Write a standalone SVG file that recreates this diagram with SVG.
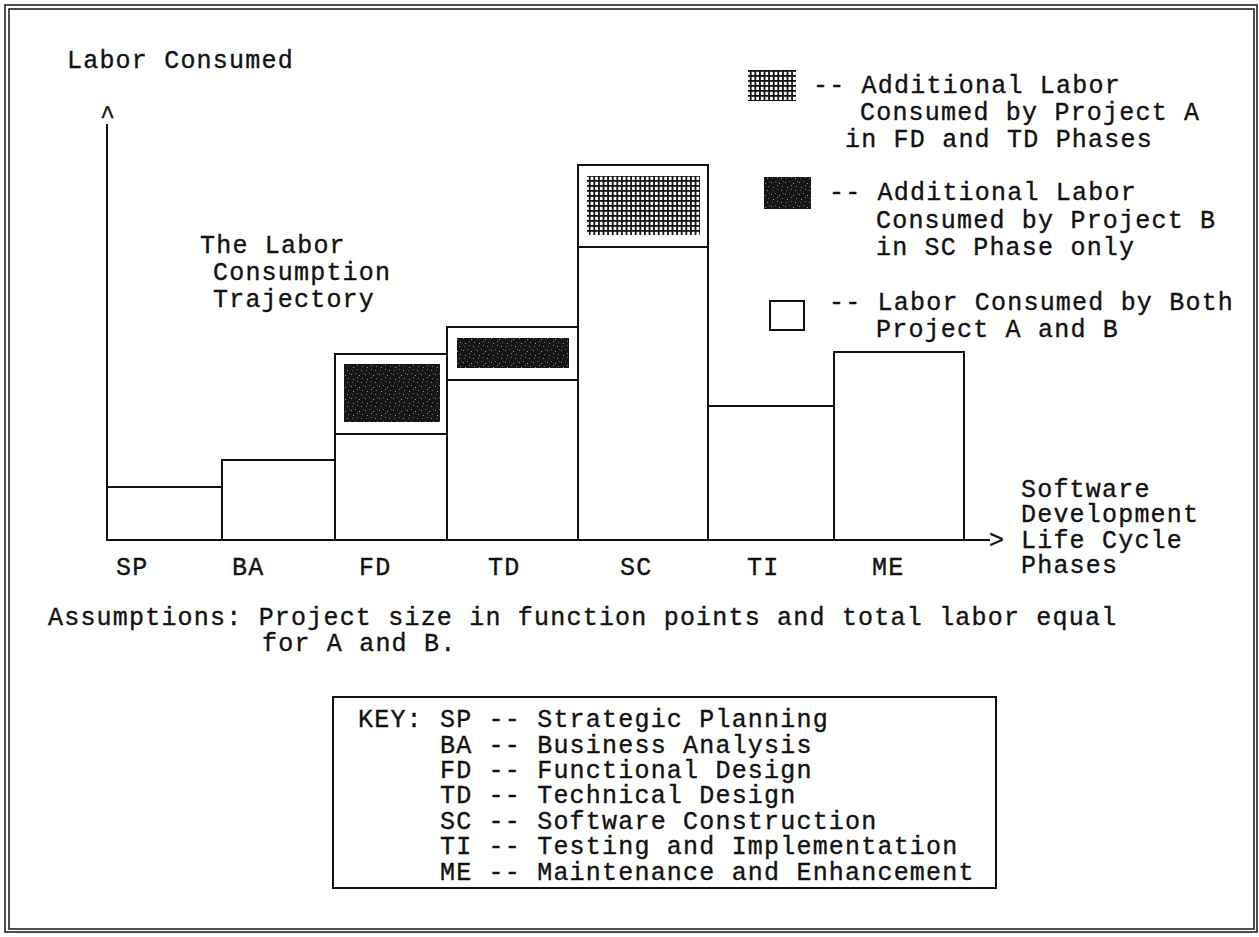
<svg xmlns="http://www.w3.org/2000/svg" width="1259" height="937" viewBox="0 0 1259 937">
<style>
  text { font-family: "Liberation Mono", "Courier New", monospace; font-size: 25px; letter-spacing: 1.2px; fill: #111; stroke: #111; stroke-width: 0.35; }
  .bar { fill: #fff; stroke: #111; stroke-width: 2; }
  .ax { stroke: #111; stroke-width: 2; fill: none; }
  .frame { fill: none; stroke: #222; stroke-width: 1.6; }
</style>
<defs>
  <pattern id="grid" x="0" y="0" width="4.6" height="5" patternUnits="userSpaceOnUse">
    <rect width="4.6" height="5" fill="#111"/>
    <rect x="1.8" y="1.8" width="2.8" height="3.2" fill="#fff"/>
  </pattern>
  <pattern id="speck" x="0" y="0" width="14" height="12" patternUnits="userSpaceOnUse">
    <rect width="14" height="12" fill="#161616"/>
    <rect x="1" y="2" width="1" height="1" fill="#8a8a8a"/>
    <rect x="5" y="1" width="1" height="1" fill="#6c6c6c"/>
    <rect x="9" y="3" width="1" height="1" fill="#999"/>
    <rect x="12" y="6" width="1" height="1" fill="#777"/>
    <rect x="3" y="7" width="1" height="1" fill="#9a9a9a"/>
    <rect x="7" y="9" width="1" height="1" fill="#6a6a6a"/>
    <rect x="11" y="10" width="1" height="1" fill="#888"/>
    <rect x="2" y="10" width="1" height="1" fill="#5e5e5e"/>
    <rect x="7" y="5" width="1" height="1" fill="#7e7e7e"/>
    <rect x="13" y="1" width="1" height="1" fill="#5a5a5a"/>
  </pattern>
</defs>
<rect width="1259" height="937" fill="#fff"/>
<g id="frame">
  <rect class="frame" x="5" y="5" width="1252" height="927"/>
  <rect class="frame" x="9" y="9" width="1245" height="920"/>
</g>

<g id="axes">
  <text x="67" y="68">Labor Consumed</text>
  <text x="108" y="124" text-anchor="middle">^</text>
  <line class="ax" x1="107" y1="124" x2="107" y2="540"/>
  <line class="ax" x1="107" y1="540" x2="990" y2="540"/>
  <text x="989" y="548">&gt;</text>
  <text x="1021" y="497">Software</text>
  <text x="1021" y="522">Development</text>
  <text x="1021" y="548">Life Cycle</text>
  <text x="1021" y="573">Phases</text>
</g>

<g id="bar-SP"><rect class="bar" x="107" y="487" width="115" height="53"/><text x="116" y="575">SP</text></g>
<g id="bar-BA"><rect class="bar" x="222" y="460" width="113" height="80"/><text x="232" y="575">BA</text></g>
<g id="bar-FD">
  <rect class="bar" x="335" y="434" width="112" height="106"/>
  <rect class="bar" x="335" y="354" width="112" height="80"/>
  <rect x="344" y="364" width="96" height="58" fill="url(#speck)"/>
  <text x="359" y="575">FD</text>
</g>
<g id="bar-TD">
  <rect class="bar" x="447" y="380" width="131" height="160"/>
  <rect class="bar" x="447" y="327" width="131" height="53"/>
  <rect x="457" y="338" width="112" height="30" fill="url(#speck)"/>
  <text x="488" y="575">TD</text>
</g>
<g id="bar-SC">
  <rect class="bar" x="578" y="247" width="130" height="293"/>
  <rect class="bar" x="578" y="165" width="130" height="82"/>
  <rect x="587" y="176" width="113" height="59" fill="url(#grid)"/>
  <text x="620" y="575">SC</text>
</g>
<g id="bar-TI"><rect class="bar" x="708" y="406" width="126" height="134"/><text x="747" y="575">TI</text></g>
<g id="bar-ME"><rect class="bar" x="834" y="352" width="130" height="188"/><text x="872" y="575">ME</text></g>

<g id="trajectory-label">
  <text x="200" y="253">The Labor</text>
  <text x="213" y="280">Consumption</text>
  <text x="213" y="307">Trajectory</text>
</g>

<g id="legend">
  <rect x="748" y="70" width="48" height="31" fill="url(#grid)"/>
  <text x="813" y="93">-- Additional Labor</text>
  <text x="860" y="120">Consumed by Project A</text>
  <text x="845" y="147">in FD and TD Phases</text>
  <rect x="764" y="177" width="47" height="32" fill="url(#speck)"/>
  <text x="829" y="200">-- Additional Labor</text>
  <text x="876" y="228">Consumed by Project B</text>
  <text x="876" y="255">in SC Phase only</text>
  <rect class="bar" x="770" y="301" width="34" height="29"/>
  <text x="829" y="310">-- Labor Consumed by Both</text>
  <text x="876" y="337">Project A and B</text>
</g>

<g id="assumptions">
  <text x="48" y="625">Assumptions: Project size in function points and total labor equal</text>
  <text x="262" y="651">for A and B.</text>
</g>

<g id="key">
  <rect class="bar" x="333" y="697" width="663" height="191"/>
  <text x="358" y="727">KEY:</text>
  <text x="440" y="727">SP -- Strategic Planning</text>
  <text x="440" y="753">BA -- Business Analysis</text>
  <text x="440" y="778">FD -- Functional Design</text>
  <text x="440" y="803">TD -- Technical Design</text>
  <text x="440" y="829">SC -- Software Construction</text>
  <text x="440" y="854">TI -- Testing and Implementation</text>
  <text x="440" y="880">ME -- Maintenance and Enhancement</text>
</g>
</svg>
